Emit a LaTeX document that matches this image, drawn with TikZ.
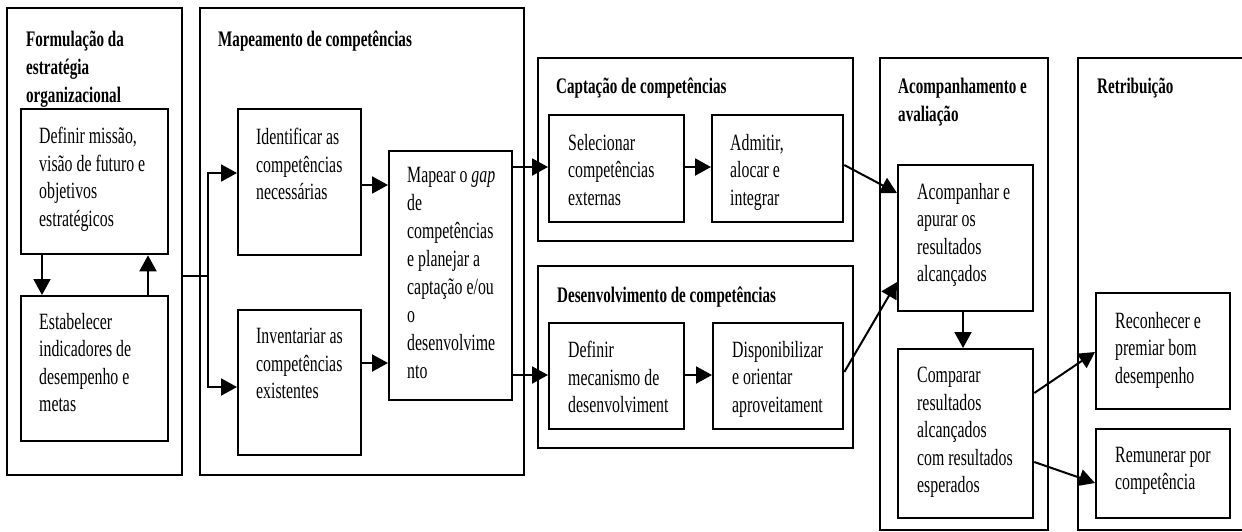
\documentclass[tikz,border=0pt]{standalone}
\usepackage{fontspec}
\setmainfont{Liberation Serif}[FakeStretch=0.68]
\usetikzlibrary{arrows.meta}
\newcommand\mkbox[6]{\node[#1,minimum width={(#4)-(#2)},minimum height={(#5)-(#3)}] (#6) at (#2,#3) {};}
\begin{document}
\begin{tikzpicture}[x=1pt,y=-1pt,
  outer/.style={draw,line width=1.9pt,inner sep=0pt,anchor=north west},
  box/.style={draw,line width=2.3pt,inner sep=0pt,anchor=north west},
  txt/.style={anchor=north west,inner sep=0pt,align=left,font=\fontsize{23.3}{27.5}\selectfont},
  ttl/.style={anchor=north west,inner sep=0pt,align=left,font=\bfseries\fontsize{22.2}{28}\selectfont},
  arr/.style={line width=2pt,-{Triangle[length=16pt,width=17pt]}},
  ln/.style={line width=2pt}]
\useasboundingbox (0,0) rectangle (1242,531);
% outer groups
\mkbox{outer}{6}{7}{181}{474}{F}
\mkbox{outer}{199}{7}{523}{474}{M}
\mkbox{outer}{537}{57}{852}{240}{C}
\mkbox{outer}{537}{265}{852}{447}{D}
\mkbox{outer}{879}{57}{1047}{529}{A}
\mkbox{outer}{1077}{57}{1262}{529}{R}
% inner boxes
\mkbox{box}{20}{108}{167}{253}{dm}
\mkbox{box}{20}{295}{167}{440}{ei}
\mkbox{box}{237}{108}{360}{254}{idf}
\mkbox{box}{237}{309}{360}{454}{inv}
\mkbox{box}{388}{150}{511}{399}{map}
\mkbox{box}{548}{114}{683}{221}{sel}
\mkbox{box}{711}{114}{842}{221}{adm}
\mkbox{box}{548}{322}{683}{428}{def}
\mkbox{box}{712}{322}{842}{428}{dis}
\mkbox{box}{897}{164}{1032}{310}{acp}
\mkbox{box}{897}{348}{1032}{517}{cmp}
\mkbox{box}{1095}{292}{1229}{408}{rec}
\mkbox{box}{1095}{428}{1229}{517}{rem}
% titles
\node[ttl] (F-t) at ([shift={(20,24)}]F.north west) {Formulação da\\estratégia\\organizacional};
\node[ttl] (M-t) at ([shift={(19,24)}]M.north west) {Mapeamento de competências};
\node[ttl] (C-t) at ([shift={(19,21)}]C.north west) {Captação de competências};
\node[ttl] (D-t) at ([shift={(20,22)}]D.north west) {Desenvolvimento de competências};
\node[ttl] (A-t) at ([shift={(19,21)}]A.north west) {Acompanhamento e\\avaliação};
\node[ttl] (R-t) at ([shift={(20,21)}]R.north west) {Retribuição};
% texts
\node[txt] (dm-t) at ([shift={(19,19)}]dm.north west) {Definir missão,\\visão de futuro e\\objetivos\\estratégicos};
\node[txt] (ei-t) at ([shift={(19,18)}]ei.north west) {Estabelecer\\indicadores de\\desempenho e\\metas};
\node[txt] (idf-t) at ([shift={(19,20)}]idf.north west) {Identificar as\\competências\\necessárias};
\node[txt] (inv-t) at ([shift={(19,19)}]inv.north west) {Inventariar as\\competências\\existentes};
\node[txt,font=\fontsize{23.3}{28}\selectfont] (map-t) at ([shift={(19,17)}]map.north west) {Mapear o \textit{gap}\\de\\competências\\e planejar a\\captação e/ou\\o\\desenvolvime\\nto};
\node[txt] (sel-t) at ([shift={(20,20)}]sel.north west) {Selecionar\\competências\\externas};
\node[txt] (adm-t) at ([shift={(19,20)}]adm.north west) {Admitir,\\alocar e\\integrar};
\node[txt] (def-t) at ([shift={(20,19)}]def.north west) {Definir\\mecanismo de\\desenvolviment};
\node[txt] (dis-t) at ([shift={(20,19)}]dis.north west) {Disponibilizar\\e orientar\\aproveitament};
\node[txt] (acp-t) at ([shift={(20,19)}]acp.north west) {Acompanhar e\\apurar os\\resultados\\alcançados};
\node[txt] (cmp-t) at ([shift={(20,19)}]cmp.north west) {Comparar\\resultados\\alcançados\\com resultados\\esperados};
\node[txt] (rec-t) at ([shift={(20,20)}]rec.north west) {Reconhecer e\\premiar bom\\desempenho};
\node[txt] (rem-t) at ([shift={(20,19)}]rem.north west) {Remunerar por\\competência};
% connectors
\draw[arr] (dm.south -| 42,0) -- (ei.north -| 42,0);
\draw[arr] (ei.north -| 148,0) -- (dm.south -| 148,0);
\coordinate (j) at (208,276);
\draw[ln] (F.east |- j) -- (j);
\draw[arr] (j) |- (idf.west |- 0,173);
\draw[arr] (j) |- (inv.west |- 0,387);
\draw[arr] (idf.east |- 0,185) -- (map.west |- 0,185);
\draw[arr] (inv.east |- 0,363) -- (map.west |- 0,363);
\draw[arr] (map.east |- 0,167) -- (sel.west |- 0,167);
\draw[arr] (map.east |- 0,375) -- (def.west |- 0,375);
\draw[arr] (sel.east |- 0,167) -- (adm.west |- 0,167);
\draw[arr] (def.east |- 0,375) -- (dis.west |- 0,375);
\draw[arr] (adm.east |- 0,165) -- (acp.west |- 0,193);
\draw[arr] (dis.east |- 0,372) -- (acp.west |- 0,282);
\draw[arr] (acp.south -| 963,0) -- (cmp.north -| 963,0);
\draw[arr] (cmp.east |- 0,393) -- (rec.west |- 0,352);
\draw[arr] (cmp.east |- 0,462) -- (rem.west |- 0,483);
\end{tikzpicture}
\end{document}
